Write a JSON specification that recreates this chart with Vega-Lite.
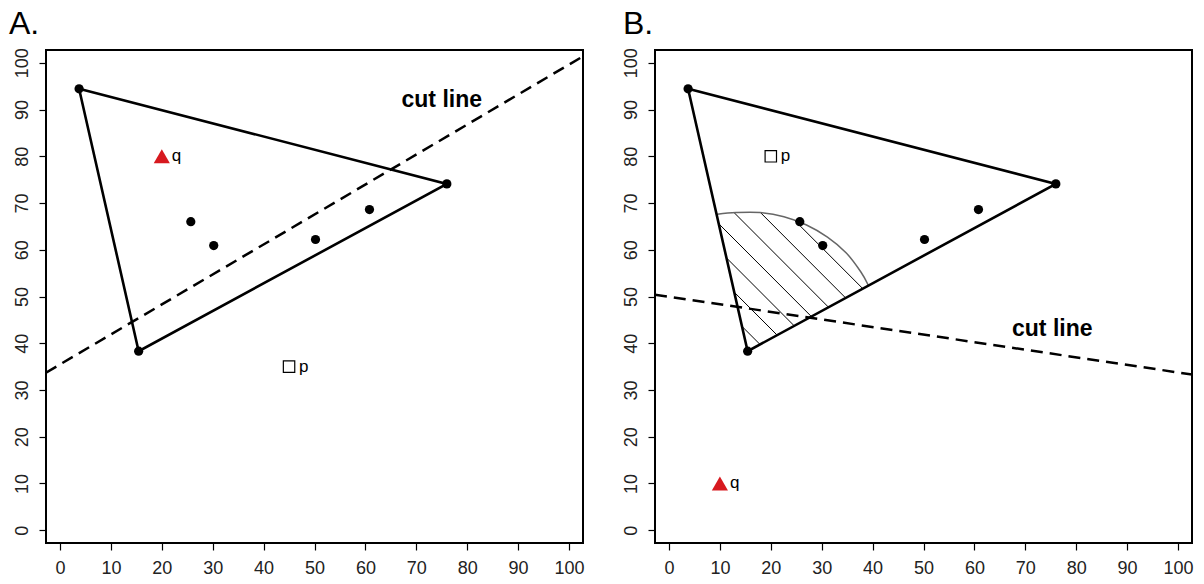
{
  "$schema": "https://vega.github.io/schema/vega-lite/v6.json",
  "background": "white",
  "padding": {"left": 8, "top": 6, "right": 4, "bottom": 0},
  "spacing": 35,
  "config": {
    "font": "Liberation Sans",
    "view": {"stroke": "black", "strokeWidth": 2},
    "axis": {
      "grid": false, "domain": false, "tickColor": "black", "tickSize": 7, "tickWidth": 1.2,
      "labelFont": "Liberation Sans", "labelFontSize": 18, "labelColor": "#222", "title": null,
      "values": [0, 10, 20, 30, 40, 50, 60, 70, 80, 90, 100]
    },
    "axisX": {"labelPadding": 9, "labelBaseline": "top"},
    "axisY": {"labelAngle": -90, "labelAlign": "center", "labelBaseline": "alphabetic", "labelPadding": 12},
    "title": {"fontSize": 32, "font": "Liberation Sans", "fontWeight": "normal", "anchor": "start", "frame": "group", "color": "black", "offset": 7}
  },
  "datasets": {
    "tri": [
      {"x": 3.75, "y": 94.45, "o": 0},
      {"x": 76.0, "y": 74.1, "o": 1},
      {"x": 15.45, "y": 38.3, "o": 2},
      {"x": 3.75, "y": 94.45, "o": 3}
    ],
    "dots": [
      {"x": 3.75, "y": 94.45},
      {"x": 76.0, "y": 74.1},
      {"x": 15.45, "y": 38.3},
      {"x": 25.7, "y": 66.0},
      {"x": 30.2, "y": 60.9},
      {"x": 50.2, "y": 62.2},
      {"x": 60.8, "y": 68.6}
    ],
    "cut": [
      {"panel": "A", "x": -2.75, "y": 33.7, "o": 0},
      {"panel": "A", "x": 102.75, "y": 101.4, "o": 1},
      {"panel": "B", "x": -2.75, "y": 50.4, "o": 0},
      {"panel": "B", "x": 102.75, "y": 33.3, "o": 1}
    ],
    "qp": [
      {"panel": "A", "kind": "q", "x": 20.0, "y": 80.0},
      {"panel": "A", "kind": "p", "x": 45.0, "y": 35.0},
      {"panel": "B", "kind": "q", "x": 10.0, "y": 10.0},
      {"panel": "B", "kind": "p", "x": 20.0, "y": 80.0}
    ],
    "cutlabel": [
      {"panel": "A", "x": 75.0, "y": 90.6, "t": "cut line"},
      {"panel": "B", "x": 75.3, "y": 41.5, "t": "cut line"}
    ],
    "arc": [
      {"x": 9.5, "y": 67.6, "o": 0},
      {"x": 13.16, "y": 67.97, "o": 1},
      {"x": 17.9, "y": 67.97, "o": 2},
      {"x": 22.58, "y": 67.07, "o": 3},
      {"x": 27.02, "y": 65.3, "o": 4},
      {"x": 31.13, "y": 62.71, "o": 5},
      {"x": 34.78, "y": 59.38, "o": 6},
      {"x": 37.67, "y": 55.3, "o": 7},
      {"x": 39.16, "y": 52.41, "o": 8}
    ],
    "hatch": [
      {"x": 14.45, "y": 43.48, "x2": 17.86, "y2": 39.77},
      {"x": 12.92, "y": 50.81, "x2": 21.21, "y2": 41.77},
      {"x": 11.4, "y": 58.14, "x2": 24.57, "y2": 43.76},
      {"x": 9.85, "y": 65.49, "x2": 27.92, "y2": 45.77},
      {"x": 12.81, "y": 67.93, "x2": 31.29, "y2": 47.76},
      {"x": 17.98, "y": 67.95, "x2": 34.64, "y2": 49.76},
      {"x": 24.61, "y": 66.37, "x2": 38.01, "y2": 51.75}
    ]
  },
  "hconcat": [
    {
      "width": 537, "height": 493,
      "title": {"text": "A.", "dx": -37},
      "encoding": {
        "x": {"field": "x", "type": "quantitative", "scale": {"domain": [-2.75, 102.75], "nice": false, "zero": false}},
        "y": {"field": "y", "type": "quantitative", "scale": {"domain": [-2.75, 102.75], "nice": false, "zero": false}}
      },
      "layer": [
        {
          "data": {"name": "cut"},
          "transform": [{"filter": "datum.panel === 'A'"}],
          "mark": {"type": "line", "color": "black", "strokeWidth": 2.5, "strokeDash": [12, 7], "clip": true},
          "encoding": {"order": {"field": "o"}}
        },
        {
          "data": {"name": "tri"},
          "mark": {"type": "line", "color": "black", "strokeWidth": 2.6, "clip": true},
          "encoding": {"order": {"field": "o"}}
        },
        {
          "data": {"name": "dots"},
          "mark": {"type": "point", "shape": "circle", "filled": true, "color": "black", "size": 85, "opacity": 1},
          "encoding": {}
        },
        {
          "data": {"name": "qp"},
          "transform": [{"filter": "datum.panel === 'A' && datum.kind === 'q'"}],
          "mark": {"type": "point", "shape": "triangle-up", "filled": true, "color": "#d7191f", "size": 260, "opacity": 1},
          "encoding": {}
        },
        {
          "data": {"name": "qp"},
          "transform": [{"filter": "datum.panel === 'A' && datum.kind === 'p'"}],
          "mark": {"type": "point", "shape": "square", "filled": false, "color": "black", "strokeWidth": 1.2, "size": 130, "opacity": 1},
          "encoding": {}
        },
        {
          "data": {"name": "qp"},
          "transform": [{"filter": "datum.panel === 'A'"}],
          "mark": {"type": "text", "align": "left", "baseline": "middle", "dx": 10, "fontSize": 17, "color": "black"},
          "encoding": {"text": {"field": "kind"}}
        },
        {
          "data": {"name": "cutlabel"},
          "transform": [{"filter": "datum.panel === 'A'"}],
          "mark": {"type": "text", "align": "center", "baseline": "alphabetic", "fontSize": 23, "fontWeight": "bold", "color": "black"},
          "encoding": {"text": {"field": "t"}}
        }
      ]
    },
    {
      "width": 537, "height": 493,
      "title": {"text": "B.", "dx": -32},
      "encoding": {
        "x": {"field": "x", "type": "quantitative", "scale": {"domain": [-2.75, 102.75], "nice": false, "zero": false}},
        "y": {"field": "y", "type": "quantitative", "scale": {"domain": [-2.75, 102.75], "nice": false, "zero": false}}
      },
      "layer": [
        {
          "data": {"name": "hatch"},
          "mark": {"type": "rule", "color": "black", "strokeWidth": 1},
          "encoding": {"x2": {"field": "x2"}, "y2": {"field": "y2"}}
        },
        {
          "data": {"name": "arc"},
          "mark": {"type": "line", "color": "#666", "strokeWidth": 1.5, "interpolate": "cardinal"},
          "encoding": {"order": {"field": "o"}}
        },
        {
          "data": {"name": "cut"},
          "transform": [{"filter": "datum.panel === 'B'"}],
          "mark": {"type": "line", "color": "black", "strokeWidth": 2.5, "strokeDash": [12, 7], "clip": true},
          "encoding": {"order": {"field": "o"}}
        },
        {
          "data": {"name": "tri"},
          "mark": {"type": "line", "color": "black", "strokeWidth": 2.6, "clip": true},
          "encoding": {"order": {"field": "o"}}
        },
        {
          "data": {"name": "dots"},
          "mark": {"type": "point", "shape": "circle", "filled": true, "color": "black", "size": 85, "opacity": 1},
          "encoding": {}
        },
        {
          "data": {"name": "qp"},
          "transform": [{"filter": "datum.panel === 'B' && datum.kind === 'q'"}],
          "mark": {"type": "point", "shape": "triangle-up", "filled": true, "color": "#d7191f", "size": 260, "opacity": 1},
          "encoding": {}
        },
        {
          "data": {"name": "qp"},
          "transform": [{"filter": "datum.panel === 'B' && datum.kind === 'p'"}],
          "mark": {"type": "point", "shape": "square", "filled": false, "color": "black", "strokeWidth": 1.2, "size": 130, "opacity": 1},
          "encoding": {}
        },
        {
          "data": {"name": "qp"},
          "transform": [{"filter": "datum.panel === 'B'"}],
          "mark": {"type": "text", "align": "left", "baseline": "middle", "dx": 10, "fontSize": 17, "color": "black"},
          "encoding": {"text": {"field": "kind"}}
        },
        {
          "data": {"name": "cutlabel"},
          "transform": [{"filter": "datum.panel === 'B'"}],
          "mark": {"type": "text", "align": "center", "baseline": "alphabetic", "fontSize": 23, "fontWeight": "bold", "color": "black"},
          "encoding": {"text": {"field": "t"}}
        }
      ]
    }
  ]
}
